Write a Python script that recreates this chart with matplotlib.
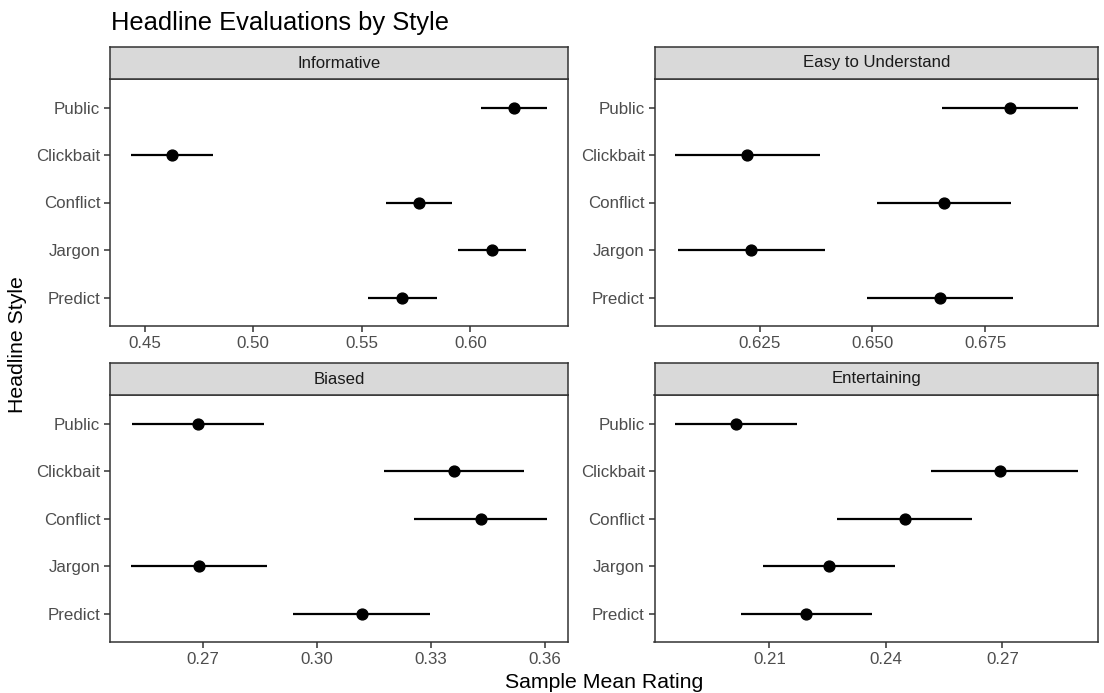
import matplotlib
matplotlib.use("Agg")
import matplotlib.pyplot as plt

plt.rcParams['font.family'] = ['Liberation Sans', 'DejaVu Sans']

styles = ["Public", "Clickbait", "Conflict", "Jargon", "Predict"]
panels = ["Informative", "Easy to Understand", "Biased", "Entertaining"]

informative_mean = [0.6200, 0.4626, 0.5766, 0.6100, 0.5687]
informative_lo = [0.6047, 0.4437, 0.5614, 0.5943, 0.5527]
informative_hi = [0.6354, 0.4817, 0.5917, 0.6256, 0.5848]

easy_mean = [0.6805, 0.6223, 0.6659, 0.6232, 0.6650]
easy_lo = [0.6655, 0.6062, 0.6510, 0.6070, 0.6488]
easy_hi = [0.6955, 0.6384, 0.6807, 0.6394, 0.6812]

biased_mean = [0.2687, 0.3361, 0.3432, 0.2688, 0.3118]
biased_lo = [0.2513, 0.3176, 0.3257, 0.2509, 0.2937]
biased_hi = [0.2861, 0.3546, 0.3607, 0.2867, 0.3299]

entertaining_mean = [0.2014, 0.2694, 0.2448, 0.2253, 0.2195]
entertaining_lo = [0.1856, 0.2516, 0.2275, 0.2084, 0.2026]
entertaining_hi = [0.2171, 0.2894, 0.2622, 0.2424, 0.2364]

informative_ticks = [0.45, 0.50, 0.55, 0.60]
informative_labels = ["0.45", "0.50", "0.55", "0.60"]
easy_ticks = [0.625, 0.650, 0.675]
easy_labels = ["0.625", "0.650", "0.675"]
biased_ticks = [0.27, 0.30, 0.33, 0.36]
biased_labels = ["0.27", "0.30", "0.33", "0.36"]
entertaining_ticks = [0.21, 0.24, 0.27]
entertaining_labels = ["0.21", "0.24", "0.27"]

data = [
    (informative_mean, informative_lo, informative_hi, informative_ticks, informative_labels),
    (easy_mean, easy_lo, easy_hi, easy_ticks, easy_labels),
    (biased_mean, biased_lo, biased_hi, biased_ticks, biased_labels),
    (entertaining_mean, entertaining_lo, entertaining_hi, entertaining_ticks, entertaining_labels),
]

W, H = 1104, 693
fig = plt.figure(figsize=(W / 100, H / 100), dpi=100)

cols = [(110, 568), (654.5, 1098)]
rows = [(47, 79, 326), (363, 395, 642)]  # strip top, panel top, panel bottom

border = "#333333"
for i, (name, (mean, lo, hi, ticks, labels)) in enumerate(zip(panels, data)):
    c = cols[i % 2]
    r = rows[i // 2]
    x0, x1 = c
    st, pt, pb = r
    ax = fig.add_axes([x0 / W, 1 - pb / H, (x1 - x0) / W, (pb - pt) / H])
    sax = fig.add_axes([x0 / W, 1 - pt / H, (x1 - x0) / W, (pt - st) / H])
    sax.set_facecolor("#D9D9D9")
    sax.set_xticks([])
    sax.set_yticks([])
    for s in sax.spines.values():
        s.set_color(border)
        s.set_linewidth(1.1)
    sax.text(0.5, 0.5, name, ha="center", va="center", fontsize=12.1,
             color="#1A1A1A", transform=sax.transAxes)

    ypos = list(range(1, len(styles) + 1))
    ax.hlines(ypos, lo, hi, color="black", linewidth=1.6)
    ax.plot(mean, ypos, "o", color="black", markersize=7.8, linestyle="none")
    ax.set_ylim(len(styles) + 0.6, 0.4)
    ax.set_yticks(ypos)
    ax.set_yticklabels(styles)
    ax.margins(x=0.05)
    ax.set_xticks(ticks)
    ax.set_xticklabels(labels)
    ax.tick_params(axis="both", colors="#333333", labelcolor="#4D4D4D",
                   labelsize=12.2, length=4.5, width=1.1, pad=2.5)
    for s in ax.spines.values():
        s.set_color(border)
        s.set_linewidth(1.1)

fig.text(111 / W, 1 - 30 / H, "Headline Evaluations by Style", fontsize=18.4,
         ha="left", va="baseline", color="black")
fig.text(604 / W, 1 - 682 / H, "Sample Mean Rating", fontsize=15.3,
         ha="center", va="center", color="black")
fig.text(18 / W, 1 - 344.5 / H, "Headline Style", fontsize=15.3,
         ha="center", va="center", rotation=90, color="black")

fig.savefig("out.png", dpi=100)
